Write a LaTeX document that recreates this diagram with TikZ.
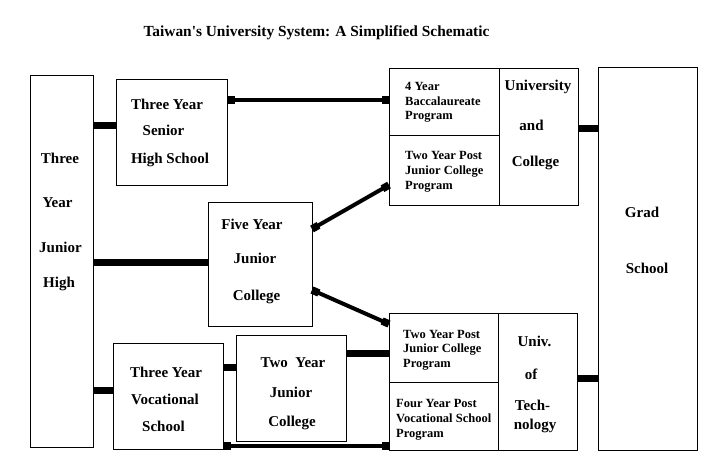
\documentclass[tikz,border=0pt]{standalone}
\usepackage{fontspec}
\setmainfont{Liberation Serif}
\usetikzlibrary{arrows.meta}
\tikzset{
  box/.style={draw=black, line width=0.9pt, inner sep=0pt, outer sep=0pt, fill=white},
  lbl/.style={anchor=base, inner sep=0pt, font=\bfseries\fontsize{15}{18}\selectfont},
  sml/.style={anchor=base west, inner sep=0pt, font=\bfseries\fontsize{12.5}{15}\selectfont},
  fat/.style={line width=7pt},
  thin/.style={line width=4pt, {Square[length=7.5pt,width=7.5pt]}-{Square[length=7.5pt,width=7.5pt]}},
}
\begin{document}
\begin{tikzpicture}[x=1pt,y=-1pt]
\fill[white] (0,0) rectangle (711,465);
\useasboundingbox (0,0) rectangle (711,465);

% title
\node[lbl, font=\bfseries\fontsize{15.4}{18}\selectfont] (title) at (316.5,37) {Taiwan\textquotesingle s University System: A Simplified Schematic};

% boxes
\node[box, minimum width=63pt,  minimum height=372pt] (jh)   at (61.5,261) {};
\node[box, minimum width=111pt, minimum height=106pt] (sh)   at (171.5,132) {};
\node[box, minimum width=104pt, minimum height=124pt] (fy)   at (260,264) {};
\node[box, minimum width=110pt, minimum height=106pt] (voc)  at (168,396) {};
\node[box, minimum width=110pt, minimum height=106pt] (tyjc) at (291,388) {};
\node[box, minimum width=110pt, minimum height=67pt]  (bacc) at (444,101.5) {};
\node[box, minimum width=110pt, minimum height=70pt]  (tjc)  at (444,170) {};
\node[box, minimum width=79pt,  minimum height=137pt] (uc)   at (538.5,136.5) {};
\node[box, minimum width=99pt,  minimum height=383pt] (grad) at (647.5,258.5) {};
\node[box, minimum width=109pt, minimum height=69pt]  (tjp)  at (443.5,347.5) {};
\node[box, minimum width=109pt, minimum height=68pt]  (fyp)  at (443.5,416) {};
\node[box, minimum width=79pt,  minimum height=137pt] (ut)   at (537.5,381.5) {};

% texts
\node[lbl] (jh1) at (60,164) {Three};
\node[lbl] (jh2) at (57.5,207) {Year};
\node[lbl] (jh3) at (60.5,252) {Junior};
\node[lbl] (jh4) at (59,287) {High};

\node[lbl] (sh1) at (167,110) {Three Year};
\node[lbl] (sh2) at (163.5,136) {Senior};
\node[lbl] (sh3) at (170,164) {High School};

\node[lbl] (fy1) at (252,229) {Five Year};
\node[lbl] (fy2) at (255,263) {Junior};
\node[lbl] (fy3) at (256.5,300) {College};

\node[lbl] (vo1) at (166,377) {Three Year};
\node[lbl] (vo2) at (165,404) {Vocational};
\node[lbl] (vo3) at (163.5,431) {School};

\node[lbl] (tj1) at (293,367) {Two\ \ Year};
\node[lbl] (tj2) at (291,397) {Junior};
\node[lbl] (tj3) at (292,426) {College};

\node[lbl] (uc1) at (538,91) {University};
\node[lbl] (uc2) at (531.5,131) {and};
\node[lbl] (uc3) at (535.5,167) {College};

\node[lbl] (gr1) at (642,217) {Grad};
\node[lbl] (gr2) at (647,273) {School};

\node[lbl] (ut1) at (534.5,346) {Univ.};
\node[lbl] (ut2) at (531,379) {of};
\node[lbl] (ut3) at (532.5,410) {Tech-};
\node[lbl] (ut4) at (535,429) {nology};

\node[sml] (ba1) at (405,91) {4 Year};
\node[sml] (ba2) at (405,105.5) {Baccalaureate};
\node[sml] (ba3) at (405,120) {Program};

\node[sml] (tc1) at (405,160) {Two Year Post};
\node[sml] (tc2) at (405,174.5) {Junior College};
\node[sml] (tc3) at (405,189) {Program};

\node[sml] (tp1) at (403,338) {Two Year Post};
\node[sml] (tp2) at (403,352.5) {Junior College};
\node[sml] (tp3) at (403,367) {Program};

\node[sml] (fp1) at (396,407) {Four Year Post};
\node[sml] (fp2) at (396,422) {Vocational School};
\node[sml] (fp3) at (396,437) {Program};

% connector rows
\coordinate (r1) at (0,126);
\coordinate (r2) at (0,100);
\coordinate (r3) at (0,262);
\coordinate (r4) at (0,390);
\coordinate (r5) at (0,367);
\coordinate (r6) at (0,353.5);
\coordinate (r7) at (0,446);
\coordinate (r8) at (0,128.5);
\coordinate (r9) at (0,378);
\coordinate (d1) at (0,229);
\coordinate (d2) at (0,185);
\coordinate (d3) at (0,290);
\coordinate (d4) at (0,324);

\draw[fat] (jh.east |- r1) -- (sh.west |- r1);
\draw[thin] (sh.east |- r2) -- (bacc.west |- r2);
\draw[fat] (jh.east |- r3) -- (fy.west |- r3);
\draw[fat] (jh.east |- r4) -- (voc.west |- r4);
\draw[fat] (voc.east |- r5) -- (tyjc.west |- r5);
\draw[fat] (tyjc.east |- r6) -- (tjp.west |- r6);
\draw[thin] (voc.east |- r7) -- (fyp.west |- r7);
\draw[fat] (uc.east |- r8) -- (grad.west |- r8);
\draw[fat] (ut.east |- r9) -- (grad.west |- r9);
\draw[thin] (fy.east |- d1) -- (tjc.west |- d2);
\draw[thin] (fy.east |- d3) -- (tjp.west |- d4);
\end{tikzpicture}
\end{document}
